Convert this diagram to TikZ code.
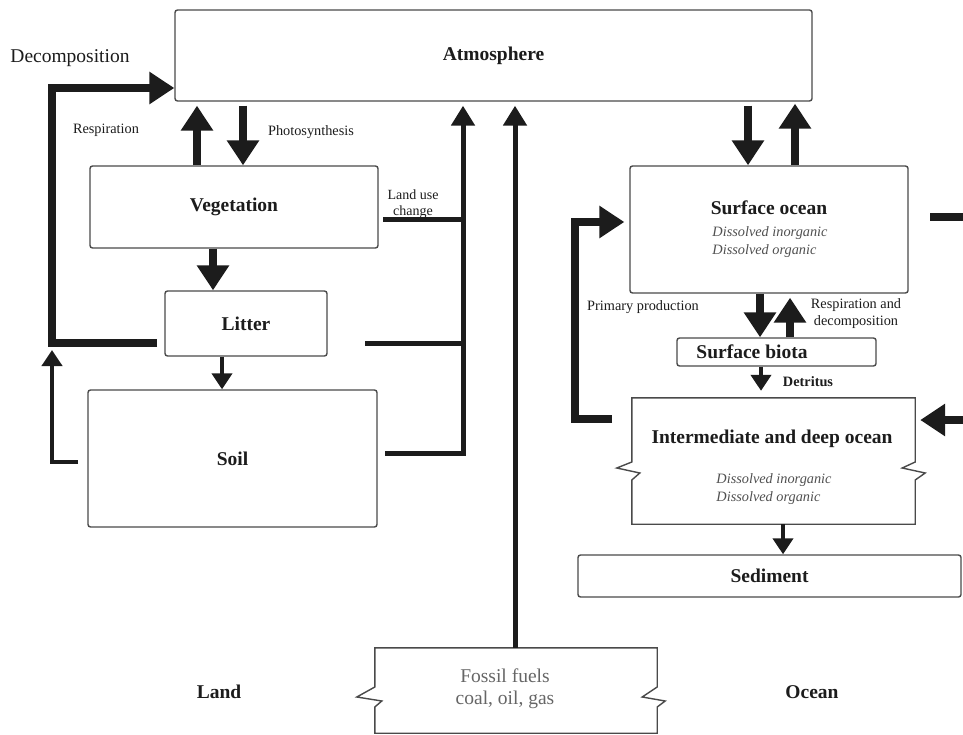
\documentclass[tikz,border=0pt]{standalone}
\usepackage{fontspec}
\setmainfont{Liberation Serif}
\usetikzlibrary{arrows.meta, calc}
\definecolor{ink}{HTML}{1C1C1C}
\definecolor{edge}{HTML}{4A4A4A}
\definecolor{fuelgray}{HTML}{666666}
\definecolor{dissgray}{HTML}{505050}
\newcommand{\bigfont}{\fontsize{19.5}{22}\selectfont}
\newcommand{\smallfont}{\fontsize{14.3}{17}\selectfont}
\newcommand{\dissfont}{\fontsize{14.3}{18}\selectfont}

\begin{document}
\begin{tikzpicture}[x=1pt, y=-1pt,
  box/.style={draw=edge, line width=1.4pt, rounded corners=2.5pt, inner sep=0pt, font=\bigfont\bfseries, text=ink},
  plainbox/.style={inner sep=0pt},
  zigline/.style={draw=edge, line width=1.4pt},
  note/.style={font=\smallfont, text=ink, inner sep=0pt},
  title/.style={font=\bigfont\bfseries, text=ink, inner sep=0pt},
  dissolved/.style={font=\dissfont\itshape, text=dissgray, align=left, inner sep=0pt},
  heavy/.style={draw=ink, line width=7.5pt, -{Triangle[length=25pt, width=31pt]}},
  medium/.style={draw=ink, line width=5pt, -{Triangle[length=20pt, width=23pt]}},
  light/.style={draw=ink, line width=4pt, -{Triangle[length=16pt, width=20pt]}},
  flowline/.style={draw=ink, line width=5pt},
]

% Canvas
\fill[white] (0,0) rectangle (963,735);
\useasboundingbox (0,0) rectangle (963,735);

% Boxes
\node[box, minimum width=637pt, minimum height=91pt] (atm) at (493.5,55.5) {Atmosphere};
\node[box, minimum width=288pt, minimum height=82pt] (veg) at (234,207) {Vegetation};
\node[box, minimum width=162pt, minimum height=65pt] (lit) at (246,323.5) {Litter};
\node[box, minimum width=289pt, minimum height=137pt] (soil) at (232.5,458.5) {Soil};
\node[box, minimum width=278pt, minimum height=127pt] (surf) at (769,229.5) {};
\node[box, minimum width=199pt, minimum height=28pt] (bio) at (776.5,352) {};
\node[plainbox, minimum width=283pt, minimum height=126pt] (deep) at (773.5,461) {};
\node[box, minimum width=383pt, minimum height=42pt] (sed) at (769.5,576) {Sediment};
\node[plainbox, minimum width=282pt, minimum height=85pt] (fos) at (516,690.5) {};

% Broken-edge outlines
\draw[zigline] (deep.north west) -- (deep.north east) -- ($(deep.east)+(0,1)$)
  -- ($(deep.east)+(-13,7)$) -- ($(deep.east)+(10,12)$) -- ($(deep.east)+(0,19)$)
  -- (deep.south east) -- (deep.south west) -- ($(deep.west)+(0,19)$)
  -- ($(deep.west)+(8,12)$) -- ($(deep.west)+(-15,7)$) -- ($(deep.west)+(0,1)$) -- cycle;
\draw[zigline] (fos.north west) -- (fos.north east) -- ($(fos.east)+(0,-3.5)$)
  -- ($(fos.east)+(-15,6.5)$) -- ($(fos.east)+(8,10.5)$) -- ($(fos.east)+(0,16.5)$)
  -- (fos.south east) -- (fos.south west) -- ($(fos.west)+(0,16.5)$)
  -- ($(fos.west)+(7,10.5)$) -- ($(fos.west)+(-18,6.5)$) -- ($(fos.west)+(0,-3.5)$) -- cycle;

% Box texts
\node[title] (surftitle) at (769,208) {Surface ocean};
\node[dissolved] (surfdiss) at (770,242) {Dissolved inorganic\\Dissolved organic};
\node[title] (biotitle) at (752,352) {Surface biota};
\node[title] (deeptitle) at (772,439) {Intermediate and deep ocean};
\node[dissolved] (deepdiss) at (774,489.5) {Dissolved inorganic\\Dissolved organic};
\node[font=\bigfont, text=fuelgray, align=center, inner sep=0pt] (fostext) at (505,689) {Fossil fuels\\coal, oil, gas};

% Free ends
\coordinate (decostart) at (157,343);
\coordinate (soilstart) at (78,462);
\coordinate (lustart) at (383,220);
\coordinate (litstart) at (365,343);
\coordinate (soilright) at (385,453);
\coordinate (primstart) at (612,419);
\coordinate (rightout) at (930,217);
\coordinate (rightedge) at (963,217);
\coordinate (rightin) at (963,420);

% Land fluxes
\draw[heavy] (decostart) -- (52,343) -- (52,88) -- (atm.west |- 0,88);
\draw[light] (soilstart) -- (52,462) -- (52,350);
\draw[heavy, shorten >=4pt] (veg.north -| 197,0) -- (atm.south -| 197,0);
\draw[heavy, shorten <=4pt] (atm.south -| 243,0) -- (veg.north -| 243,0);
\draw[heavy] (veg.south -| 213,0) -- (lit.north -| 213,0);
\draw[light] (lit.south -| 222,0) -- (soil.north -| 222,0);
\draw[flowline] (lustart) -- (463,220);
\draw[flowline] (litstart) -- (463,343);
\draw[medium, shorten >=4pt] (soilright) -- (463,453) -- (atm.south -| 463,0);

% Fossil fuel emissions
\draw[medium, shorten >=4pt] (fos.north -| 515,0) -- (atm.south -| 515,0);

% Ocean fluxes
\draw[heavy, shorten <=4pt] (atm.south -| 748,0) -- (surf.north -| 748,0);
\draw[heavy, shorten >=2pt] (surf.north -| 795,0) -- (atm.south -| 795,0);
\draw[heavy] (surf.south -| 760,0) -- (bio.north -| 760,0);
\draw[heavy, shorten >=4pt] (bio.north -| 790,0) -- (surf.south -| 790,0);
\draw[light, shorten >=7pt] (bio.south -| 761,0) -- (deep.north -| 761,0);
\draw[heavy, shorten >=5pt] (primstart) -- (575,419) -- (575,222) -- (surf.west |- 0,222);
\draw[flowline, line width=7.5pt] (rightout) -- (rightedge);
\draw[heavy, shorten >=5pt] (rightin) -- (deep.east |- 0,420);
\draw[light] (deep.south -| 783,0) -- (sed.north -| 783,0);

% Labels
\node[note, font=\bigfont] (decolbl) at (70,58) {Decomposition};
\node[note] (resplbl) at (106,130) {Respiration};
\node[note] (photlbl) at (311,132) {Photosynthesis};
\node[note, align=center, font=\fontsize{14}{16.5}\selectfont] (lulbl) at (413,204) {Land use\\change};
\node[note] (primlbl) at (643,307) {Primary production};
\node[note, align=center] (rdlbl) at (856,313.5) {Respiration and\\decomposition};
\node[note, font=\smallfont\bfseries] (detlbl) at (808,382) {Detritus};
\node[title] (landlbl) at (219,692) {Land};
\node[title] (oceanlbl) at (812,692) {Ocean};

\end{tikzpicture}
\end{document}
